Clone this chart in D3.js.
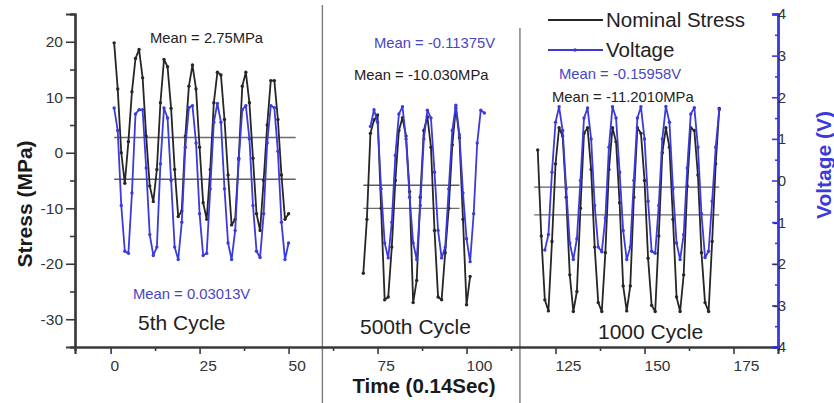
<!DOCTYPE html>
<html>
<head>
<meta charset="utf-8">
<script src="https://cdn.jsdelivr.net/npm/d3@7"></script>
<style>
  html, body { margin: 0; padding: 0; background: #fff; }
  svg { display: block; font-family: "Liberation Sans", Arial, sans-serif; }
</style>
</head>
<body>
<svg id="chart" width="834" height="403"></svg>
<script>
// ---- data: three recording windows (5th, 500th, 1000th cycle) ----
const time5 = [1,2,3,4,5,6,7,8,9,10,11,12,13,14,15,16,17,18,19,20,21,22,23,24,25,26,27,28,29,30,31,32,33,34,35,36,37,38,39,40,41,42,43,44,45,46,47,48,49,50];
const stress5 = [19.8,11.5,0,-5.5,2,11,17,18.6,13.5,3,-6,-8.8,-3,9,16.8,15.5,8,-3,-11.5,-10.5,3,12,15.8,11.5,1,-9,-12,-3,9,14.5,14,6,-4,-13,-12,-1,12,14.5,9,-1,-11,-14,-5,5,13,13,6,-4,-12,-11];
const volt5 = [1.74,1.2,-0.6,-1.7,-1.75,-0.3,1.6,1.7,1.7,0.3,-1.3,-1.8,-1.6,0.4,1.74,1.5,0,-1.6,-1.9,-1.0,0.8,1.75,1.8,0.9,-0.8,-1.8,-1.75,-0.2,1.4,1.85,1.4,-0.2,-1.5,-1.9,-1.2,0.5,1.7,1.8,1.0,-0.6,-1.7,-1.85,-0.8,0.9,1.8,1.75,0.7,-1.0,-1.9,-1.5];

const time500s = [71,72,73,74,75,76,77,78,79,80,81,82,83,84,85,86,87,88,89,90,91,92,93,94,95,96,97,98,99,100,101];
const stress500 = [-21.7,-12,3.5,5.9,6.8,-10,-26.5,-26,-17,-5,4,6.3,3,-7,-27,-23,-8,4,6.5,1,-14,-26,-26.5,-18,-10,1.4,8.1,2.7,-12,-27.4,-22.3];
const time500v = [73,74,75,76,77,78,79,80,81,82,83,84,85,86,87,88,89,90,91,92,93,94,95,96,97,98,99,100,101,102,103,104,105];
const volt500 = [1.3,1.7,1.4,-0.2,-1.5,-1.86,-1.0,0.6,1.6,1.77,1.0,-0.4,-1.5,-1.9,-0.6,1.0,1.69,1.5,0.2,-1.2,-1.86,-1.6,-0.2,1.2,1.81,1.1,-0.3,-1.4,-1.95,-0.8,0.9,1.69,1.62];

const time1000s = [120,121,122,123,124,125,126,127,128,129,130,131,132,133,134,135,136,137,138,139,140,141,142,143,144,145,146,147,148,149,150,151,152,153,154,155,156,157,158,159,160,161,162,163,164,165,166,167,168,169,170,171];
const stress1000 = [0.5,-15,-26.5,-28.5,-16,-2,4.5,3,-8,-22,-28.6,-25,-10,3.5,4.5,-3,-17,-27,-28.6,-18,-3,4.5,2,-9,-24,-28.5,-24,-8,4.5,3.5,-5,-19,-27.5,-28.6,-15,0,4.5,1,-12,-26,-28.6,-22,-6,4.5,4,-4,-18,-27,-28.6,-16,-2,8];
const time1000v = [122,123,124,125,126,127,128,129,130,131,132,133,134,135,136,137,138,139,140,141,142,143,144,145,146,147,148,149,150,151,152,153,154,155,156,157,158,159,160,161,162,163,164,165,166,167,168,169,170,171];
const volt1000 = [-1.67,-1.3,0.2,1.4,1.77,1.2,-0.2,-1.5,-1.9,-1.4,0,1.5,1.74,1.0,-0.6,-1.6,-1.71,-0.9,0.8,1.77,1.5,0.2,-1.2,-1.9,-1.6,0,1.5,1.77,1.0,-0.5,-1.7,-1.75,-0.6,1.0,1.78,1.4,-0.2,-1.5,-1.9,-1.3,0.3,1.6,1.75,0.8,-0.8,-1.85,-1.7,-0.5,0.8,1.7];

// mean values per window, with the time span each mean line covers
const meanStress = [2.75, -10.030, -11.2010];
const meanStressText = ["2.75MPa", "-10.030MPa", "-11.2010MPa"];
const meanVolt = [0.03013, -0.11375, -0.15958];
const meanVoltText = ["0.03013V", "-0.11375V", "-0.15958V"];
const meanSpan = [[1, 52], [71, 98], [119, 171]];
const cycleNames = ["5th Cycle", "500th Cycle", "1000 Cycle"];
const windowBreaks = [59.5, 115];

const xTicks = [0, 25, 50, 75, 100, 125, 150, 175];
const stressTicks = [20, 10, 0, -10, -20, -30];
const voltTicks = [4, 3, 2, 1, 0, -1, -2, -3, -4];

// ---- layout ----
const svg = d3.select("#chart");
const L = 75, R = 778, T = 14, B = 347;
const BLACK = "#262626", BLUE = "#3b3bdc", BLUE_TXT = "#4646c4", AX = "#3a3a3a";
const FONT = "'Liberation Sans', Arial, sans-serif";

const x = d3.scaleLinear().domain([-10, 187.5]).range([L, R]);
const yS = d3.scaleLinear().domain([-35, 25]).range([B, T]);
const yV = d3.scaleLinear().domain([-4, 4]).range([B, T]);

// window separators
svg.selectAll("line.sep").data(windowBreaks).enter().append("line")
  .attr("class", "sep")
  .attr("x1", d => x(d)).attr("x2", d => x(d))
  .attr("y1", (d, i) => i === 0 ? 5 : 28).attr("y2", 403)
  .attr("stroke", "#7a7a7a").attr("stroke-width", 1.4);

// mean lines
const g = svg.append("g");
g.selectAll("line.ms").data(meanStress).enter().append("line")
  .attr("x1", (d, i) => x(meanSpan[i][0])).attr("x2", (d, i) => x(meanSpan[i][1]))
  .attr("y1", d => yS(d)).attr("y2", d => yS(d))
  .attr("stroke", "#6c6c6c").attr("stroke-width", 1.3);
g.selectAll("line.mv").data(meanVolt).enter().append("line")
  .attr("x1", (d, i) => x(meanSpan[i][0])).attr("x2", (d, i) => x(meanSpan[i][1]))
  .attr("y1", d => yV(d)).attr("y2", d => yV(d))
  .attr("stroke", "#5d5d6e").attr("stroke-width", 1.3);

// series
function drawSeries(ts, vs, y, color) {
  const pts = ts.map((t, i) => [t, vs[i]]);
  const line = d3.line().x(d => x(d[0])).y(d => y(d[1]));
  g.append("path").datum(pts).attr("d", line)
    .attr("fill", "none").attr("stroke", color).attr("stroke-width", 1.8)
    .attr("stroke-linejoin", "round");
  g.selectAll(null).data(pts).enter().append("circle")
    .attr("cx", d => x(d[0])).attr("cy", d => y(d[1])).attr("r", 1.7)
    .attr("fill", color);
}
drawSeries(time5, stress5, yS, BLACK);
drawSeries(time500s, stress500, yS, BLACK);
drawSeries(time1000s, stress1000, yS, BLACK);
drawSeries(time5, volt5, yV, BLUE);
drawSeries(time500v, volt500, yV, BLUE);
drawSeries(time1000v, volt1000, yV, BLUE);

// ---- axes ----
// left (stress)
const leftAxis = svg.append("g").attr("transform", `translate(${L},0)`);
leftAxis.call(d3.axisLeft(yS).tickValues(d3.range(-35, 26, 5).filter(v => v % 10 !== 0)).tickSize(5).tickFormat(""));
leftAxis.append("g").call(d3.axisLeft(yS).tickValues(stressTicks).tickSize(9).tickPadding(3).tickFormat(d => String(d)));
leftAxis.selectAll("path.domain").attr("stroke", AX).attr("stroke-width", 2.2);
leftAxis.selectAll("line").attr("stroke", AX).attr("stroke-width", 1.6);
leftAxis.selectAll("text").attr("font-size", 15.5).attr("fill", "#333").attr("font-family", FONT);

// bottom (time)
const botAxis = svg.append("g").attr("transform", `translate(0,${B})`);
botAxis.call(d3.axisBottom(x).tickValues([12.5, 37.5, 62.5, 87.5, 112.5, 137.5, 162.5]).tickSize(4).tickFormat(""));
botAxis.append("g").call(d3.axisBottom(x).tickValues(xTicks).tickSize(7).tickPadding(6).tickFormat(d => String(d)));
botAxis.selectAll("path.domain").attr("stroke", AX).attr("stroke-width", 2.2);
botAxis.selectAll("line").attr("stroke", AX).attr("stroke-width", 1.6);
botAxis.selectAll("text").attr("font-size", 15.5).attr("fill", "#333")
  .attr("text-anchor", "start").attr("dx", "-0.5").attr("font-family", FONT);

// right (voltage), ticks pointing inward
const rightAxis = svg.append("g").attr("transform", `translate(${R},0)`);
rightAxis.call(d3.axisLeft(yV).tickValues(d3.range(-3.5, 4, 1)).tickSize(3).tickFormat(""));
rightAxis.append("g").call(d3.axisLeft(yV).tickValues(voltTicks).tickSize(6).tickFormat(""));
rightAxis.selectAll("path.domain").attr("stroke", BLUE).attr("stroke-width", 2.4);
rightAxis.selectAll("line").attr("stroke", BLUE).attr("stroke-width", 1.6);
rightAxis.selectAll("text.vl").data(voltTicks).enter().append("text")
  .attr("class", "vl")
  .attr("x", 8).attr("y", d => yV(d)).attr("dy", "0.36em")
  .attr("font-size", 15).attr("fill", "#333").text(d => String(d));

// axis titles
svg.append("text").attr("transform", "translate(32,204) rotate(-90)")
  .attr("text-anchor", "middle").attr("font-size", 21).attr("font-weight", "bold")
  .attr("fill", "#1a1a1a").text("Stress (MPa)");
svg.append("text").attr("transform", "translate(831,165) rotate(-90)")
  .attr("text-anchor", "middle").attr("font-size", 21).attr("font-weight", "bold")
  .attr("fill", BLUE).text("Voltage (V)");
svg.append("text").attr("x", 424).attr("y", 393)
  .attr("text-anchor", "middle").attr("font-size", 20.5).attr("font-weight", "bold")
  .attr("fill", "#1a1a1a").text("Time (0.14Sec)");

// ---- annotations ----
const meanStressPos = [[150, 43], [354, 80], [552, 102]];
const meanVoltPos = [[133, 299], [374, 48], [559, 79]];
svg.selectAll("text.msl").data(meanStressText).enter().append("text")
  .attr("x", (d, i) => meanStressPos[i][0]).attr("y", (d, i) => meanStressPos[i][1])
  .attr("font-size", 14.8).attr("fill", "#222")
  .text(d => "Mean = " + d);
svg.selectAll("text.mvl").data(meanVoltText).enter().append("text")
  .attr("x", (d, i) => meanVoltPos[i][0]).attr("y", (d, i) => meanVoltPos[i][1])
  .attr("font-size", 14.8).attr("fill", BLUE_TXT)
  .text(d => "Mean = " + d);

const cyclePos = [[138, 330], [360, 334], [598, 339]];
svg.selectAll("text.cyc").data(cycleNames).enter().append("text")
  .attr("x", (d, i) => cyclePos[i][0]).attr("y", (d, i) => cyclePos[i][1])
  .attr("font-size", 21).attr("fill", "#222").text(d => d);

// ---- legend ----
const legend = svg.append("g");
const legendItems = [
  { name: "Nominal Stress", color: BLACK, y: 20, dot: false },
  { name: "Voltage", color: BLUE, y: 50, dot: true }
];
legendItems.forEach(it => {
  legend.append("line").attr("x1", 548).attr("x2", 603).attr("y1", it.y).attr("y2", it.y)
    .attr("stroke", it.color).attr("stroke-width", 1.8);
  if (it.dot) legend.append("circle").attr("cx", 575).attr("cy", it.y).attr("r", 1.8).attr("fill", it.color);
  legend.append("text").attr("x", 606).attr("y", it.y).attr("dy", "0.36em")
    .attr("font-size", 20.5).attr("fill", "#222").text(it.name);
});
</script>
</body>
</html>
